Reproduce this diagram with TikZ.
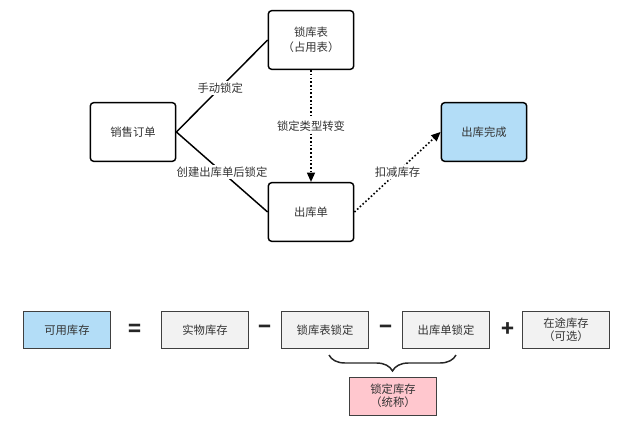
\documentclass[tikz,border=0pt]{standalone}
\usepackage{fontspec}
\setmainfont{Noto Sans CJK SC}
\usetikzlibrary{arrows.meta,decorations.pathreplacing}

\definecolor{doneblue}{HTML}{B3DDF7}
\definecolor{boxgray}{HTML}{F2F2F2}
\definecolor{lockpink}{HTML}{FFC7CE}
\definecolor{txtgray}{HTML}{333333}

\tikzset{
  flowbox/.style={draw=black, line width=1.1pt, rounded corners=2.5pt, fill=white,
    minimum width=64pt, minimum height=44pt, align=center, text=txtgray, font=\fontsize{8.5}{11}\selectfont},
  termbox/.style={draw=black!75, line width=0.7pt, fill=boxgray,
    minimum width=65pt, minimum height=27.5pt, align=center, text=txtgray, font=\fontsize{8.5}{10}\selectfont},
  oper/.style={font=\fontsize{16}{16}\selectfont\bfseries, text=black!85},
  edgelabel/.style={fill=white, inner sep=1.5pt, text=txtgray, font=\fontsize{8.5}{10}\selectfont},
  dotarrow/.style={line width=1.2pt, dash pattern=on 1.2pt off 1.6pt, -{Triangle[length=7pt,width=6pt]}}
}

\begin{document}
\begin{tikzpicture}[x=0.75pt, y=-0.75pt]
\useasboundingbox (0,0) rectangle (640,432);

% Flow of the order
\node[flowbox] (order) at (133,132) {销售订单};
\node[flowbox] (locktable) at (311,40) {锁库表\\（占用表）};
\node[flowbox] (outbill) at (311,212) {出库单};
\node[flowbox, fill=doneblue] (done) at (484,132) {出库完成};

\draw[line width=1.1pt] (order.east) -- (locktable.west) node[edgelabel, pos=0.48] {手动锁定};
\draw[line width=1.1pt] (order.east) -- (outbill.west) node[edgelabel, pos=0.5] {创建出库单后锁定};

\draw[dotarrow] (locktable.south) -- (outbill.north) node[edgelabel, pos=0.5] {锁定类型转变};
\draw[dotarrow] (outbill.east) -- (done.west) node[edgelabel, pos=0.5] {扣减库存};

% Formula of the available stock
\node[termbox, fill=doneblue] (avail) at (67,330) {可用库存};
\node[oper] (eq) at (135,330) {=};
\node[termbox] (physical) at (205,330) {实物库存};
\node[oper] (minusa) at (265,330) {\textminus};
\node[termbox] (tablelock) at (325,330) {锁库表锁定};
\node[oper] (minusb) at (386,330) {\textminus};
\node[termbox] (billlock) at (446,330) {出库单锁定};
\node[oper] (plus) at (508,330) {+};
\node[termbox] (transit) at (566,330) {在途库存\\（可选）};

\coordinate (bracel) at (329,355);
\coordinate (bracer) at (456,355);
\draw[line width=1.1pt, black!85, decorate, decoration={brace, mirror, amplitude=12pt}] (bracel) -- (bracer);

\node[termbox, fill=lockpink, minimum height=28.5pt] (locked) at (393,396) {锁定库存\\（统称）};

\end{tikzpicture}
\end{document}
